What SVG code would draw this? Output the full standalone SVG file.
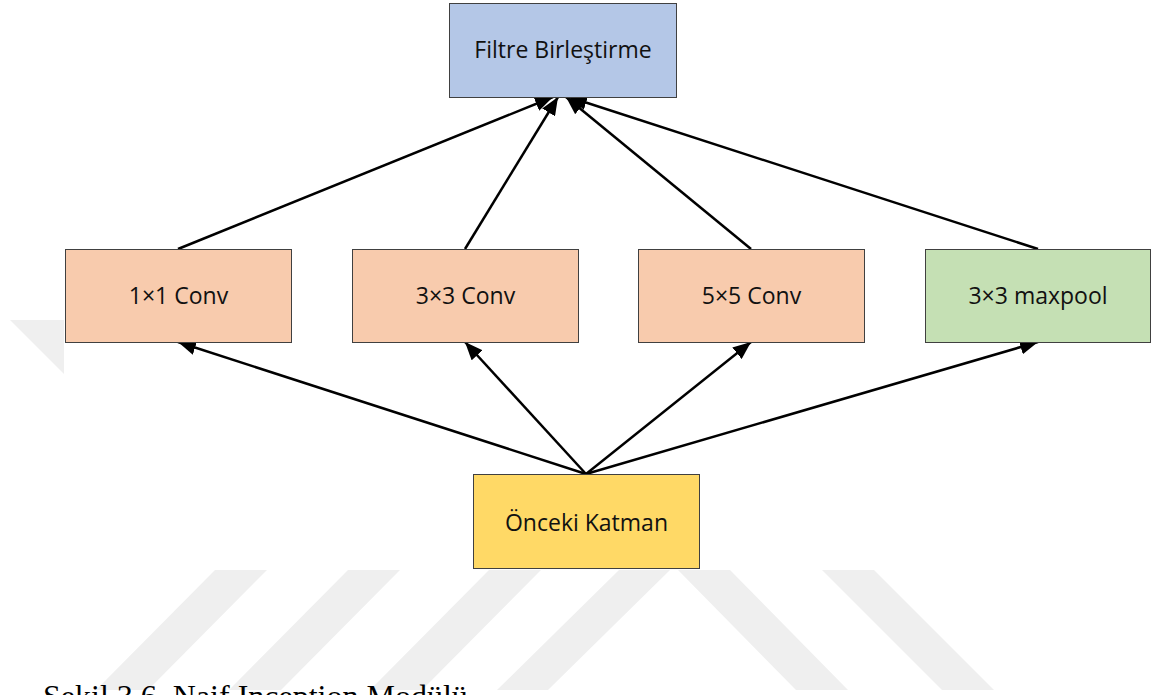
<svg xmlns="http://www.w3.org/2000/svg" width="1152" height="695" viewBox="0 0 1152 695">
<defs>
<style>
.box{stroke:#404040;stroke-width:1}
.lbl{font-family:"Open Sans","Noto Sans","DejaVu Sans",sans-serif;font-size:23px;fill:#111;text-anchor:middle}
.wm{fill:#efefef}
.con{stroke:#000;stroke-width:2.5;fill:none;marker-end:url(#ah)}
.cap{font-family:"Liberation Serif","Times New Roman",serif;font-size:32px;fill:#000}
</style>
<marker id="ah" markerUnits="userSpaceOnUse" markerWidth="19" markerHeight="15" refX="18" refY="7.5" orient="auto">
<path d="M0,0 L18,7.5 L0,15 z" fill="#000"/>
</marker>
</defs>
<rect width="1152" height="695" fill="#fff"/>
<g id="watermark">
<polygon class="wm" points="10,320 64,320 64,374"/>
<polygon class="wm" points="215,570 267,570 148,690 96,690"/>
<polygon class="wm" points="348,570 400,570 281,690 229,690"/>
<polygon class="wm" points="489,570 541,570 422,690 370,690"/>
<polygon class="wm" points="619,570 670,570 548,690 497,690"/>
<polygon class="wm" points="678,570 730,570 848,690 796,690"/>
<polygon class="wm" points="822,570 874,570 994,690 942,690"/>
</g>
<g id="connectors">
<line class="con" x1="178" y1="249" x2="553" y2="97"/>
<line class="con" x1="465" y1="249" x2="558" y2="97"/>
<line class="con" x1="751" y1="249" x2="566" y2="97"/>
<line class="con" x1="1038" y1="249" x2="569" y2="97"/>
<line class="con" x1="586" y1="474" x2="178" y2="342"/>
<line class="con" x1="586" y1="474" x2="465" y2="342"/>
<line class="con" x1="586" y1="474" x2="751" y2="342"/>
<line class="con" x1="586" y1="474" x2="1038" y2="342"/>
</g>
<g id="filtre">
<rect class="box" x="449.5" y="3.5" width="227" height="94" fill="#b4c7e7"/>
<text class="lbl" x="563" y="58">Filtre Birleştirme</text>
</g>
<g id="conv1">
<rect class="box" x="65.5" y="249.5" width="226" height="93" fill="#f8cbad"/>
<text class="lbl" x="178.5" y="304">1×1 Conv</text>
</g>
<g id="conv3">
<rect class="box" x="352.5" y="249.5" width="226" height="93" fill="#f8cbad"/>
<text class="lbl" x="465.5" y="304">3×3 Conv</text>
</g>
<g id="conv5">
<rect class="box" x="638.5" y="249.5" width="226" height="93" fill="#f8cbad"/>
<text class="lbl" x="751.5" y="304">5×5 Conv</text>
</g>
<g id="maxpool">
<rect class="box" x="925.5" y="249.5" width="225" height="93" fill="#c5e0b4"/>
<text class="lbl" x="1038" y="304">3×3 maxpool</text>
</g>
<g id="onceki">
<rect class="box" x="473.5" y="474.5" width="226" height="94" fill="#ffd966"/>
<text class="lbl" x="586.5" y="531">Önceki Katman</text>
</g>
<text class="cap" x="43" y="707">Şekil 3.6. Naif Inception Modülü</text>
</svg>
